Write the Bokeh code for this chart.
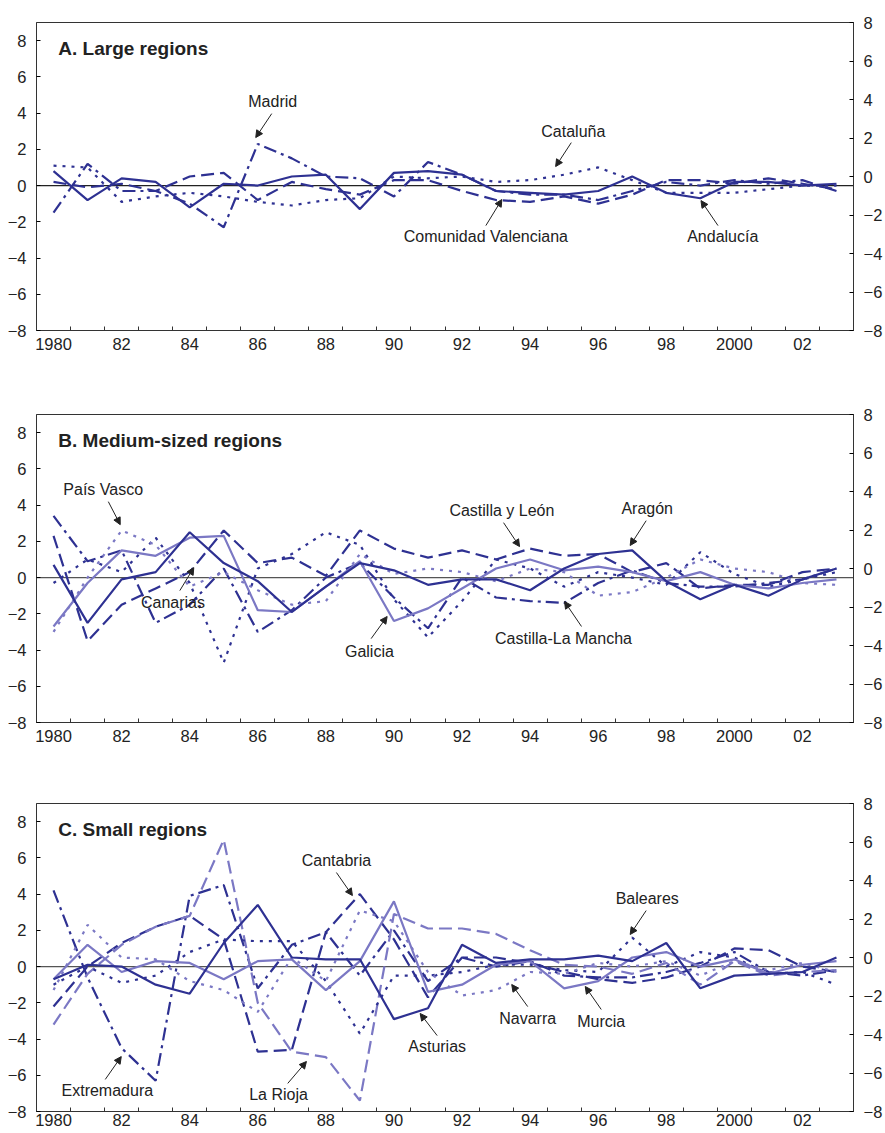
from bokeh.plotting import figure
from bokeh.models import Range1d, LinearAxis, FixedTicker, Span, Label, Arrow, NormalHead
from bokeh.layouts import column
from bokeh.embed import file_html
from bokeh.resources import INLINE

years = list(range(1980, 2004))

# Panel A: large regions
andalucia = [0.8, -0.8, 0.4, 0.2, -1.2, 0.1, 0.0, 0.5, 0.6, -1.3, 0.7, 0.8, 0.6, -0.3, -0.4, -0.5, -0.3, 0.5, -0.4, -0.7, 0.2, 0.2, 0.0, 0.1]
cataluna = [1.1, 1.0, -0.9, -0.6, -0.4, -0.6, -0.9, -1.1, -0.8, -0.7, 0.5, 0.4, 0.5, 0.2, 0.3, 0.6, 1.0, 0.3, -0.4, -0.4, -0.4, -0.2, 0.0, 0.0]
valenciana = [0.2, -0.1, 0.1, -0.3, 0.5, 0.7, -0.8, 0.2, -0.2, -0.5, 0.3, 0.3, -0.3, -0.8, -0.9, -0.6, -1.0, -0.5, 0.3, 0.3, 0.1, 0.4, 0.1, -0.2]
madrid = [-1.5, 1.2, -0.3, -0.3, -1.0, -2.3, 2.3, 1.5, 0.5, 0.4, -0.6, 1.3, 0.6, -0.3, -0.5, -0.5, -0.8, -0.3, 0.2, 0.0, 0.3, 0.1, 0.3, -0.3]

# Panel B: medium-sized regions
aragon = [0.7, -2.5, -0.1, 0.3, 2.5, 0.8, -0.2, -1.9, -0.5, 0.8, 0.4, -0.4, -0.1, -0.1, -0.7, 0.5, 1.3, 1.5, -0.2, -1.2, -0.4, -1.0, -0.1, 0.5]
galicia = [-2.7, -0.3, 1.5, 1.2, 2.2, 2.3, -1.8, -1.9, -0.5, 0.9, -2.4, -1.7, -0.6, 0.5, 1.0, 0.4, 0.6, 0.3, -0.2, 0.3, -0.4, -0.6, -0.3, -0.1]
pais_vasco = [-3.0, 0.0, 2.6, 1.8, -0.5, 0.3, -0.7, -1.5, -1.3, 1.3, 0.2, 0.5, 0.3, -0.2, 0.5, 0.3, -1.0, -0.8, 0.0, 1.0, 0.5, 0.3, -0.3, -0.4]
canarias = [-0.3, 1.0, 0.3, 2.2, -0.3, -4.7, 0.5, 1.3, 2.5, 1.8, -1.2, -3.3, -1.3, 1.0, 0.5, -0.5, 0.3, 0.0, -0.4, 1.4, 0.2, -0.5, -0.1, 0.3]
castilla_leon = [2.3, -3.5, -1.5, -0.6, 0.3, 2.6, 0.8, 1.1, 0.1, 2.6, 1.6, 1.1, 1.5, 1.0, 1.6, 1.2, 1.3, 0.3, 0.8, -0.6, -0.4, -0.4, 0.3, 0.5]
castilla_mancha = [3.4, 0.9, 1.5, -2.5, -1.5, 0.5, -3.0, -1.8, 0.0, 0.8, -1.1, -2.8, 0.0, -1.1, -1.3, -1.4, -0.3, 0.4, -0.3, -0.5, -0.5, -0.3, -0.1, 0.5]

# Panel C: small regions
asturias = [-0.7, 0.1, 0.0, -1.0, -1.5, 1.3, 3.4, 0.5, 0.4, 0.4, -2.9, -2.3, 1.2, 0.2, 0.4, 0.4, 0.6, 0.3, 1.3, -1.2, -0.5, -0.4, -0.3, 0.5]
murcia = [-0.7, 1.2, -0.3, 0.3, 0.2, -0.7, 0.3, 0.4, -1.3, 0.3, 3.6, -1.4, -1.0, 0.1, 0.3, -1.2, -0.8, 0.5, 0.8, 0.0, 0.4, -0.4, 0.1, 0.3]
navarra = [-1.3, 2.3, 0.5, 0.4, -0.8, -1.3, -2.5, 0.5, -0.8, 3.1, 2.5, -0.3, -1.6, -1.3, -0.3, -0.4, 0.2, 0.0, 0.3, -0.5, 0.3, -0.2, 0.2, -0.3]
baleares = [-1.0, 0.0, -0.9, -0.5, 0.8, 1.5, 1.4, 1.4, -0.8, -3.7, -0.5, -0.5, -0.3, 0.1, 0.1, -0.2, -0.3, 1.6, 0.0, 0.8, 0.5, -0.4, -0.3, -1.0]
cantabria = [-2.2, 0.0, 1.3, 2.2, 2.8, 1.5, -4.7, -4.6, 1.9, 4.0, 1.5, -1.7, 0.5, 0.5, 0.2, -0.3, -0.7, -0.9, -0.6, 0.0, 1.0, 0.9, 0.0, -0.3]
la_rioja = [-3.2, -0.4, 1.2, 2.2, 2.8, 7.0, -2.0, -4.7, -5.0, -7.4, 2.9, 2.1, 2.1, 1.8, 0.9, 0.1, 0.0, -0.4, 0.2, -1.0, 0.3, -0.5, -0.3, -0.2]
extremadura = [4.2, -0.6, -4.5, -6.3, 3.9, 4.5, -1.2, 1.2, 1.9, -0.5, 2.0, -0.8, 0.5, 0.0, 0.3, -0.5, -0.6, -0.6, -0.3, 0.2, 0.8, -0.3, -0.5, -0.2]

y_ticks = [-8, -6, -4, -2, 0, 2, 4, 6, 8]
x_label_years = list(range(1980, 2003, 2))
x_label_text = ["1980", "82", "84", "86", "88", "90", "92", "94", "96", "98", "2000", "02"]

DARK = "#2E3192"
LIGHT = "#7B78C4"
TXT = "#222222"
FONT = "Liberation Sans"
SOLID, DASH, DOT, DASHDOT = "solid", "13 6", "3 6", "13 5 3 5"

panel_A = [
    (andalucia, DARK, SOLID), (cataluna, DARK, DOT),
    (valenciana, DARK, DASH), (madrid, DARK, DASHDOT),
]
labels_A = [
    ("Madrid", 1986.44, 4.63, 1986.41, 3.97, 1985.94, 2.65),
    ("Cataluña", 1995.27, 3.0, 1995.21, 2.37, 1994.75, 1.05),
    ("Comunidad Valenciana", 1992.70, -2.81, 1992.70, -2.21, 1993.17, -0.77),
    ("Andalucía", 1999.66, -2.81, 1999.52, -2.21, 1999.02, -0.83),
]
panel_B = [
    (canarias, DARK, DOT), (castilla_leon, DARK, DASH),
    (castilla_mancha, DARK, DASHDOT), (pais_vasco, LIGHT, DOT),
    (galicia, LIGHT, SOLID), (aragon, DARK, SOLID),
]
labels_B = [
    ("País Vasco", 1981.46, 4.86, 1981.61, 4.19, 1981.96, 2.92),
    ("Canarias", 1983.51, -1.38, 1983.71, -0.72, 1984.12, 0.55),
    ("Galicia", 1989.28, -4.08, 1989.33, -3.37, 1989.80, -2.15),
    ("Castilla y León", 1993.17, 3.70, 1993.22, 3.03, 1993.69, 1.71),
    ("Aragón", 1997.44, 3.81, 1997.41, 3.14, 1996.94, 1.77),
    ("Castilla-La Mancha", 1994.98, -3.37, 1995.51, -2.70, 1995.01, -1.32),
]
panel_C = [
    (extremadura, DARK, DASHDOT), (cantabria, DARK, DASH),
    (la_rioja, LIGHT, DASH), (baleares, DARK, DOT),
    (navarra, LIGHT, DOT), (murcia, LIGHT, SOLID), (asturias, DARK, SOLID),
]
labels_C = [
    ("Cantabria", 1988.31, 5.85, 1988.31, 5.19, 1988.78, 3.92),
    ("Baleares", 1997.44, 3.75, 1997.41, 3.09, 1996.94, 1.77),
    ("Extremadura", 1981.58, -6.84, 1981.52, -6.23, 1981.99, -4.97),
    ("La Rioja", 1986.61, -7.06, 1986.88, -6.45, 1987.43, -5.24),
    ("Asturias", 1991.27, -4.41, 1991.27, -3.81, 1990.77, -2.59),
    ("Navarra", 1993.93, -2.87, 1993.93, -2.21, 1993.46, -0.99),
    ("Murcia", 1996.09, -3.04, 1996.09, -2.37, 1995.62, -1.10),
]


def style_axis(ax):
    ax.axis_line_color = "#333333"
    ax.major_label_text_font = FONT
    ax.major_label_text_font_size = "16.5px"
    ax.major_label_text_color = TXT


def make_panel(title, series, labels, height, top, bottom, zero_color, x_standoff):
    p = figure(width=885, height=height, output_backend="svg", toolbar_location=None,
               x_range=Range1d(1979.5, 2003.5), y_range=Range1d(-8, 9),
               min_border_left=36, min_border_right=29, min_border_top=top,
               min_border_bottom=bottom)
    p.xgrid.grid_line_color = None
    p.ygrid.grid_line_color = None
    p.outline_line_color = "#333333"
    p.outline_line_width = 1
    p.background_fill_color = "white"

    # left axis
    p.yaxis.ticker = FixedTicker(ticks=y_ticks)
    style_axis(p.yaxis[0])
    p.yaxis.major_tick_in = 4
    p.yaxis.major_tick_out = 0
    p.yaxis.minor_tick_line_color = None
    p.yaxis.major_label_standoff = 10

    # right axis
    p.extra_y_ranges = {"r": Range1d(-8, 8)}
    rax = LinearAxis(y_range_name="r", ticker=FixedTicker(ticks=y_ticks))
    style_axis(rax)
    rax.major_tick_in = 4
    rax.major_tick_out = 0
    rax.minor_tick_line_color = None
    rax.major_label_standoff = 10
    p.add_layout(rax, "right")

    # bottom axis
    half_years = [y + 0.5 for y in range(1980, 2003)]
    p.xaxis.ticker = FixedTicker(ticks=x_label_years, minor_ticks=half_years)
    style_axis(p.xaxis[0])
    p.xaxis.major_tick_line_color = None
    p.xaxis.major_tick_in = 0
    p.xaxis.major_tick_out = 0
    p.xaxis.minor_tick_in = 4
    p.xaxis.minor_tick_out = 0
    p.xaxis.minor_tick_line_color = "#333333"
    p.xaxis.major_label_standoff = x_standoff
    p.xaxis.major_label_overrides = {y: t for y, t in zip(x_label_years, x_label_text)}

    p.add_layout(Span(location=0, dimension="width", line_color=zero_color,
                      line_width=1.2, level="underlay"))

    for vals, color, dash in series:
        p.line(years, vals, line_color=color, line_width=2.2, line_dash=dash)

    p.add_layout(Label(x=1980.14, y=7.56, text=title, text_font=FONT,
                       text_font_size="19px", text_font_style="bold",
                       text_color=TXT, text_baseline="middle", text_align="left"))

    for text, tx, ty, x0, y0, x1, y1 in labels:
        p.add_layout(Label(x=tx, y=ty, text=text, text_font=FONT, text_font_size="16px",
                           text_color=TXT, text_baseline="middle", text_align="center"))
        p.add_layout(Arrow(x_start=x0, y_start=y0, x_end=x1, y_end=y1,
                           line_color=TXT, line_width=1,
                           end=NormalHead(size=7, fill_color=TXT, line_color=TXT, line_width=1)))
    return p


pA = make_panel("A. Large regions", panel_A, labels_A, 392, 22, 62, "#222222", 7)
pB = make_panel("B. Medium-sized regions", panel_B, labels_B, 391, 22, 61, "#555555", 7)
pC = make_panel("C. Small regions", panel_C, labels_C, 360, 20, 32, "#555555", 2)

layout = column(pA, pB, pC, spacing=0, styles={"margin-bottom": "-40px"})

open("out.html", "w").write(file_html(layout, INLINE))
